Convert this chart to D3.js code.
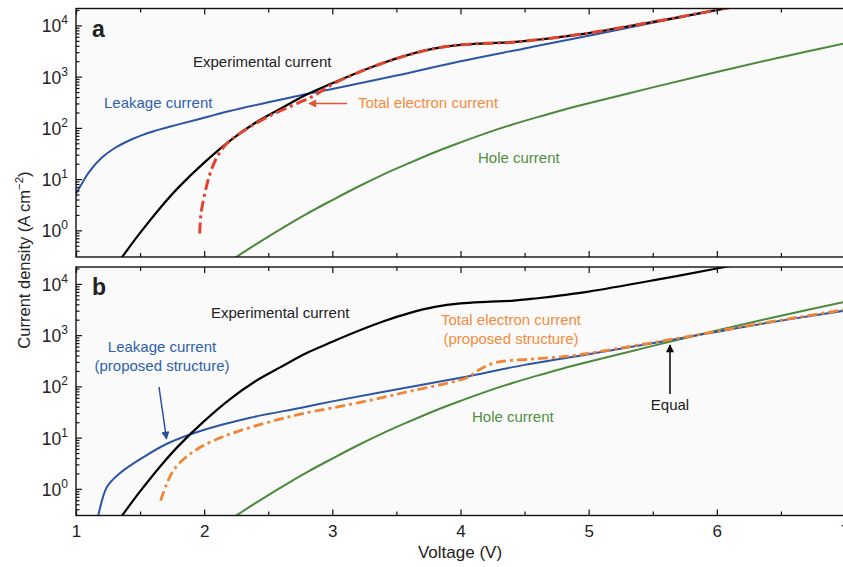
<!DOCTYPE html>
<html><head><meta charset="utf-8">
<script src="https://cdn.jsdelivr.net/npm/d3@7"></script>
<style>
body{margin:0;background:#fff;}
svg{display:block;font-family:"Liberation Sans",Arial,Helvetica,sans-serif;}
</style></head>
<body><svg id="c" width="843" height="567"></svg>
<script>
// ---------- DATA (current density, A cm^-2) ----------
const xTicks = [1,2,3,4,5,6,7];
const yTickExps = [0,1,2,3,4];

// Panel a
const leakV = [1.0,1.05,1.1,1.2,1.3,1.45,1.6,1.8,2.0,2.2,2.5,2.8,3.0,3.5,4.0,4.5,5.0,5.5,6.0,6.2];
const leakJ = [5.2,8.5,13.5,26,40,62,85,117,158,214,316,457,575,1050,2000,3550,6300,11200,20000,25000];

const expV = [1.3,1.35,1.5,1.66,1.8,2.0,2.2,2.4,2.6,2.8,3.0,3.2,3.4,3.6,3.8,4.0,4.2,4.4,4.6,4.8,5.0,5.5,6.0,6.2];
const expJ = [0.19,0.28,0.89,2.8,6.9,21,56,126,240,447,741,1200,1860,2690,3550,4170,4470,4680,5250,6030,7080,11700,20000,25000];

const elecV = [1.965,1.975,2.005,2.045,2.1,2.175,2.3,2.5,2.7,2.85,3.0,3.2,3.4,3.6,3.8,4.0,4.2,4.4,4.6,4.8,5.0,5.5,6.0,6.2];
const elecJ = [0.87,2.1,5.2,12.6,27,49,85,166,282,417,708,1200,1860,2690,3550,4170,4470,4680,5250,6030,7080,11700,20000,25000];

const holeV = [2.2,2.4,2.6,2.8,3.0,3.2,3.4,3.6,3.8,4.0,4.2,4.4,4.6,4.8,5.0,5.5,6.0,6.5,7.0];
const holeJ = [0.25,0.525,1.07,2.1,3.9,7.1,12.4,20.6,33.5,52,79,115,162,224,302,617,1230,2400,4470];

// Panel b (proposed structure)
const leakPV = [1.15,1.17,1.24,1.34,1.52,1.71,1.97,2.36,2.75,3.0,3.37,4.0,4.5,4.93,5.63,6.3,7.0];
const leakPJ = [0.18,0.28,1.07,2.0,4.07,7.6,13.5,24.5,38,51,76,148,263,398,794,1585,3020];

const elecPV = [1.66,1.7,1.76,1.85,1.97,2.15,2.36,2.59,2.75,3.0,3.37,3.63,3.89,4.05,4.15,4.28,4.55,4.8,4.93,5.63,6.3,7.0];
const elecPJ = [0.59,1.12,2.3,4.0,6.5,10.5,15.8,22.9,28.8,38,59,83,115,148,214,295,339,380,417,813,1620,3160];

// ---------- LAYOUT ----------
const svg = d3.select('#c');
const X0 = 76, X1 = 845;
const x = d3.scaleLinear().domain([1,7]).range([X0,X1]);
const yDomain = [Math.pow(10,-0.52), Math.pow(10,4.33)];
const panels = [
  {id:'a', top:8.5, bottom:257},
  {id:'b', top:267, bottom:515.5}
];
const BLUE = '#2c55a5', BLACK = '#000', RED = '#e0442c', ORANGE = '#f08535', GREEN = '#4b8a3b';

const defs = svg.append('defs');
function marker(id,color){
  defs.append('marker').attr('id',id).attr('viewBox','0 0 10 10')
    .attr('refX',9).attr('refY',5).attr('markerWidth',9).attr('markerHeight',8)
    .attr('markerUnits','userSpaceOnUse').attr('orient','auto')
    .append('path').attr('d','M0,0 L10,5 L0,10 z').attr('fill',color);
}
marker('arRed', '#e2533a');
marker('arBlue', '#2b4f9c');
marker('arBlack', '#000');

function toPts(vs, js){ return vs.map((v,i)=>({v:v, j:js[i]})); }

panels.forEach((p, pi) => {
  const y = d3.scaleLog().domain(yDomain).range([p.bottom, p.top]);
  p.y = y;
  const g = svg.append('g');
  g.append('rect').attr('x',X0).attr('y',p.top).attr('width',X1-X0).attr('height',p.bottom-p.top)
    .attr('fill','#fafafa');
  defs.append('clipPath').attr('id','clip'+p.id).append('rect')
    .attr('x',X0).attr('y',p.top).attr('width',X1-X0).attr('height',p.bottom-p.top);

  const line = d3.line().x(d=>x(d.v)).y(d=>y(d.j)).curve(d3.curveCatmullRom.alpha(0.5));
  const cg = g.append('g').attr('clip-path','url(#clip'+p.id+')');
  function draw(vs, js, color, w, dash){
    const path = cg.append('path').datum(toPts(vs,js)).attr('d',line)
      .attr('fill','none').attr('stroke',color).attr('stroke-width',w)
      .attr('stroke-linejoin','round');
    if (dash) path.attr('stroke-dasharray',dash);
  }
  draw(holeV, holeJ, GREEN, 2, null);
  if (p.id==='a'){
    draw(leakV, leakJ, BLUE, 2, null);
    draw(expV, expJ, BLACK, 2.2, null);
    draw(elecV, elecJ, RED, 3, '11,4,3,4');
  } else {
    draw(leakPV, leakPJ, BLUE, 2, null);
    draw(expV, expJ, BLACK, 2.2, null);
    draw(elecPV, elecPJ, ORANGE, 2.8, '10,4,3,4');
  }

  // x ticks (inward, top & bottom)
  const xMinor = d3.range(1.5,7,1);
  const bottomAxis = d3.axisBottom(x).tickValues(xTicks).tickSize(-6).tickPadding(9)
    .tickFormat(pi===1 ? d3.format('d') : ()=>'');
  const topAxis = d3.axisTop(x).tickValues(xTicks).tickSize(-6).tickFormat(()=> '');
  const ba = g.append('g').attr('transform',`translate(0,${p.bottom})`).call(bottomAxis);
  g.append('g').attr('transform',`translate(0,${p.top})`).call(topAxis);
  g.append('g').attr('transform',`translate(0,${p.bottom})`)
    .call(d3.axisBottom(x).tickValues(xMinor).tickSize(-4).tickFormat(()=> ''));
  g.append('g').attr('transform',`translate(0,${p.top})`)
    .call(d3.axisTop(x).tickValues(xMinor).tickSize(-4).tickFormat(()=> ''));

  // y ticks (inward, left)
  const major = yTickExps.map(e=>Math.pow(10,e));
  const minor = [];
  for (let e=-1;e<=4;e++) for (let k=2;k<=9;k++){ const v=k*Math.pow(10,e); if (v>=yDomain[0] && v<=yDomain[1]) minor.push(v); }
  const la = g.append('g').attr('transform',`translate(${X0},0)`)
    .call(d3.axisLeft(y).tickValues(major).tickSize(-6).tickPadding(8).tickFormat(()=> ''));
  g.append('g').attr('transform',`translate(${X0},0)`)
    .call(d3.axisLeft(y).tickValues(minor).tickSize(-3.5).tickFormat(()=> ''));

  // y labels: 10^n
  la.selectAll('.tick').each(function(d){
    const t = d3.select(this).append('text').attr('x',-8).attr('y',6.5)
      .attr('text-anchor','end').attr('fill','#222').style('font-size','17.5px');
    t.append('tspan').text('10');
    t.append('tspan').attr('dy',-8).style('font-size','12px').text(String(Math.round(Math.log10(d))));
  });

  g.selectAll('.domain').remove();
  g.selectAll('.tick line').attr('stroke','#111').attr('stroke-width',1.2);
  ba.selectAll('.tick text').attr('fill','#222').style('font-size','17px').attr('dy','0.71em');

  g.append('rect').attr('x',X0).attr('y',p.top).attr('width',X1-X0).attr('height',p.bottom-p.top)
    .attr('fill','none').attr('stroke','#111').attr('stroke-width',1.4);

  // panel letter
  g.append('text').attr('x',92).attr('y', p.top+28).text(p.id)
    .style('font-size','23px').style('font-weight','bold').attr('fill','#222');
});

// ---------- ANNOTATIONS ----------
function label(txt, xp, yp, color, anchor){
  svg.append('text').attr('x',xp).attr('y',yp).attr('fill',color)
    .attr('text-anchor',anchor||'start').style('font-size','15px').text(txt);
}
// panel a
label('Experimental current', 193, 67, '#222');
label('Leakage current', 104, 108, '#2f5fae');
label('Total electron current', 358, 108, '#f58a3c');
label('Hole current', 478, 163, '#4f8f40');
svg.append('line').attr('x1',347).attr('y1',103.5).attr('x2',309).attr('y2',103.5)
  .attr('stroke','#e2533a').attr('stroke-width',1.6).attr('marker-end','url(#arRed)');

// panel b
label('Experimental current', 211, 318, '#222');
label('Leakage current', 162, 352, '#2f5fae', 'middle');
label('(proposed structure)', 162, 371, '#2f5fae', 'middle');
label('Total electron current', 511, 325, '#f58a3c', 'middle');
label('(proposed structure)', 511, 344, '#f58a3c', 'middle');
label('Hole current', 472, 422, '#4f8f40');
label('Equal', 670, 410, '#222', 'middle');
svg.append('line').attr('x1',159).attr('y1',387).attr('x2',166.5).attr('y2',439)
  .attr('stroke','#2b4f9c').attr('stroke-width',1.5).attr('marker-end','url(#arBlue)');
svg.append('line').attr('x1',670).attr('y1',394).attr('x2',670).attr('y2',345)
  .attr('stroke','#000').attr('stroke-width',1.5).attr('marker-end','url(#arBlack)');

// axis titles
svg.append('text').attr('x',460).attr('y',558).attr('text-anchor','middle')
  .attr('fill','#222').style('font-size','17px').text('Voltage (V)');
const yt = svg.append('text').attr('transform','translate(30,260) rotate(-90)')
  .attr('text-anchor','middle').attr('fill','#222').style('font-size','16.5px');
yt.append('tspan').text('Current density (A cm');
yt.append('tspan').attr('dy',-7).style('font-size','11.5px').text('\u22122');
yt.append('tspan').attr('dy',7).text(')');
</script></body></html>
